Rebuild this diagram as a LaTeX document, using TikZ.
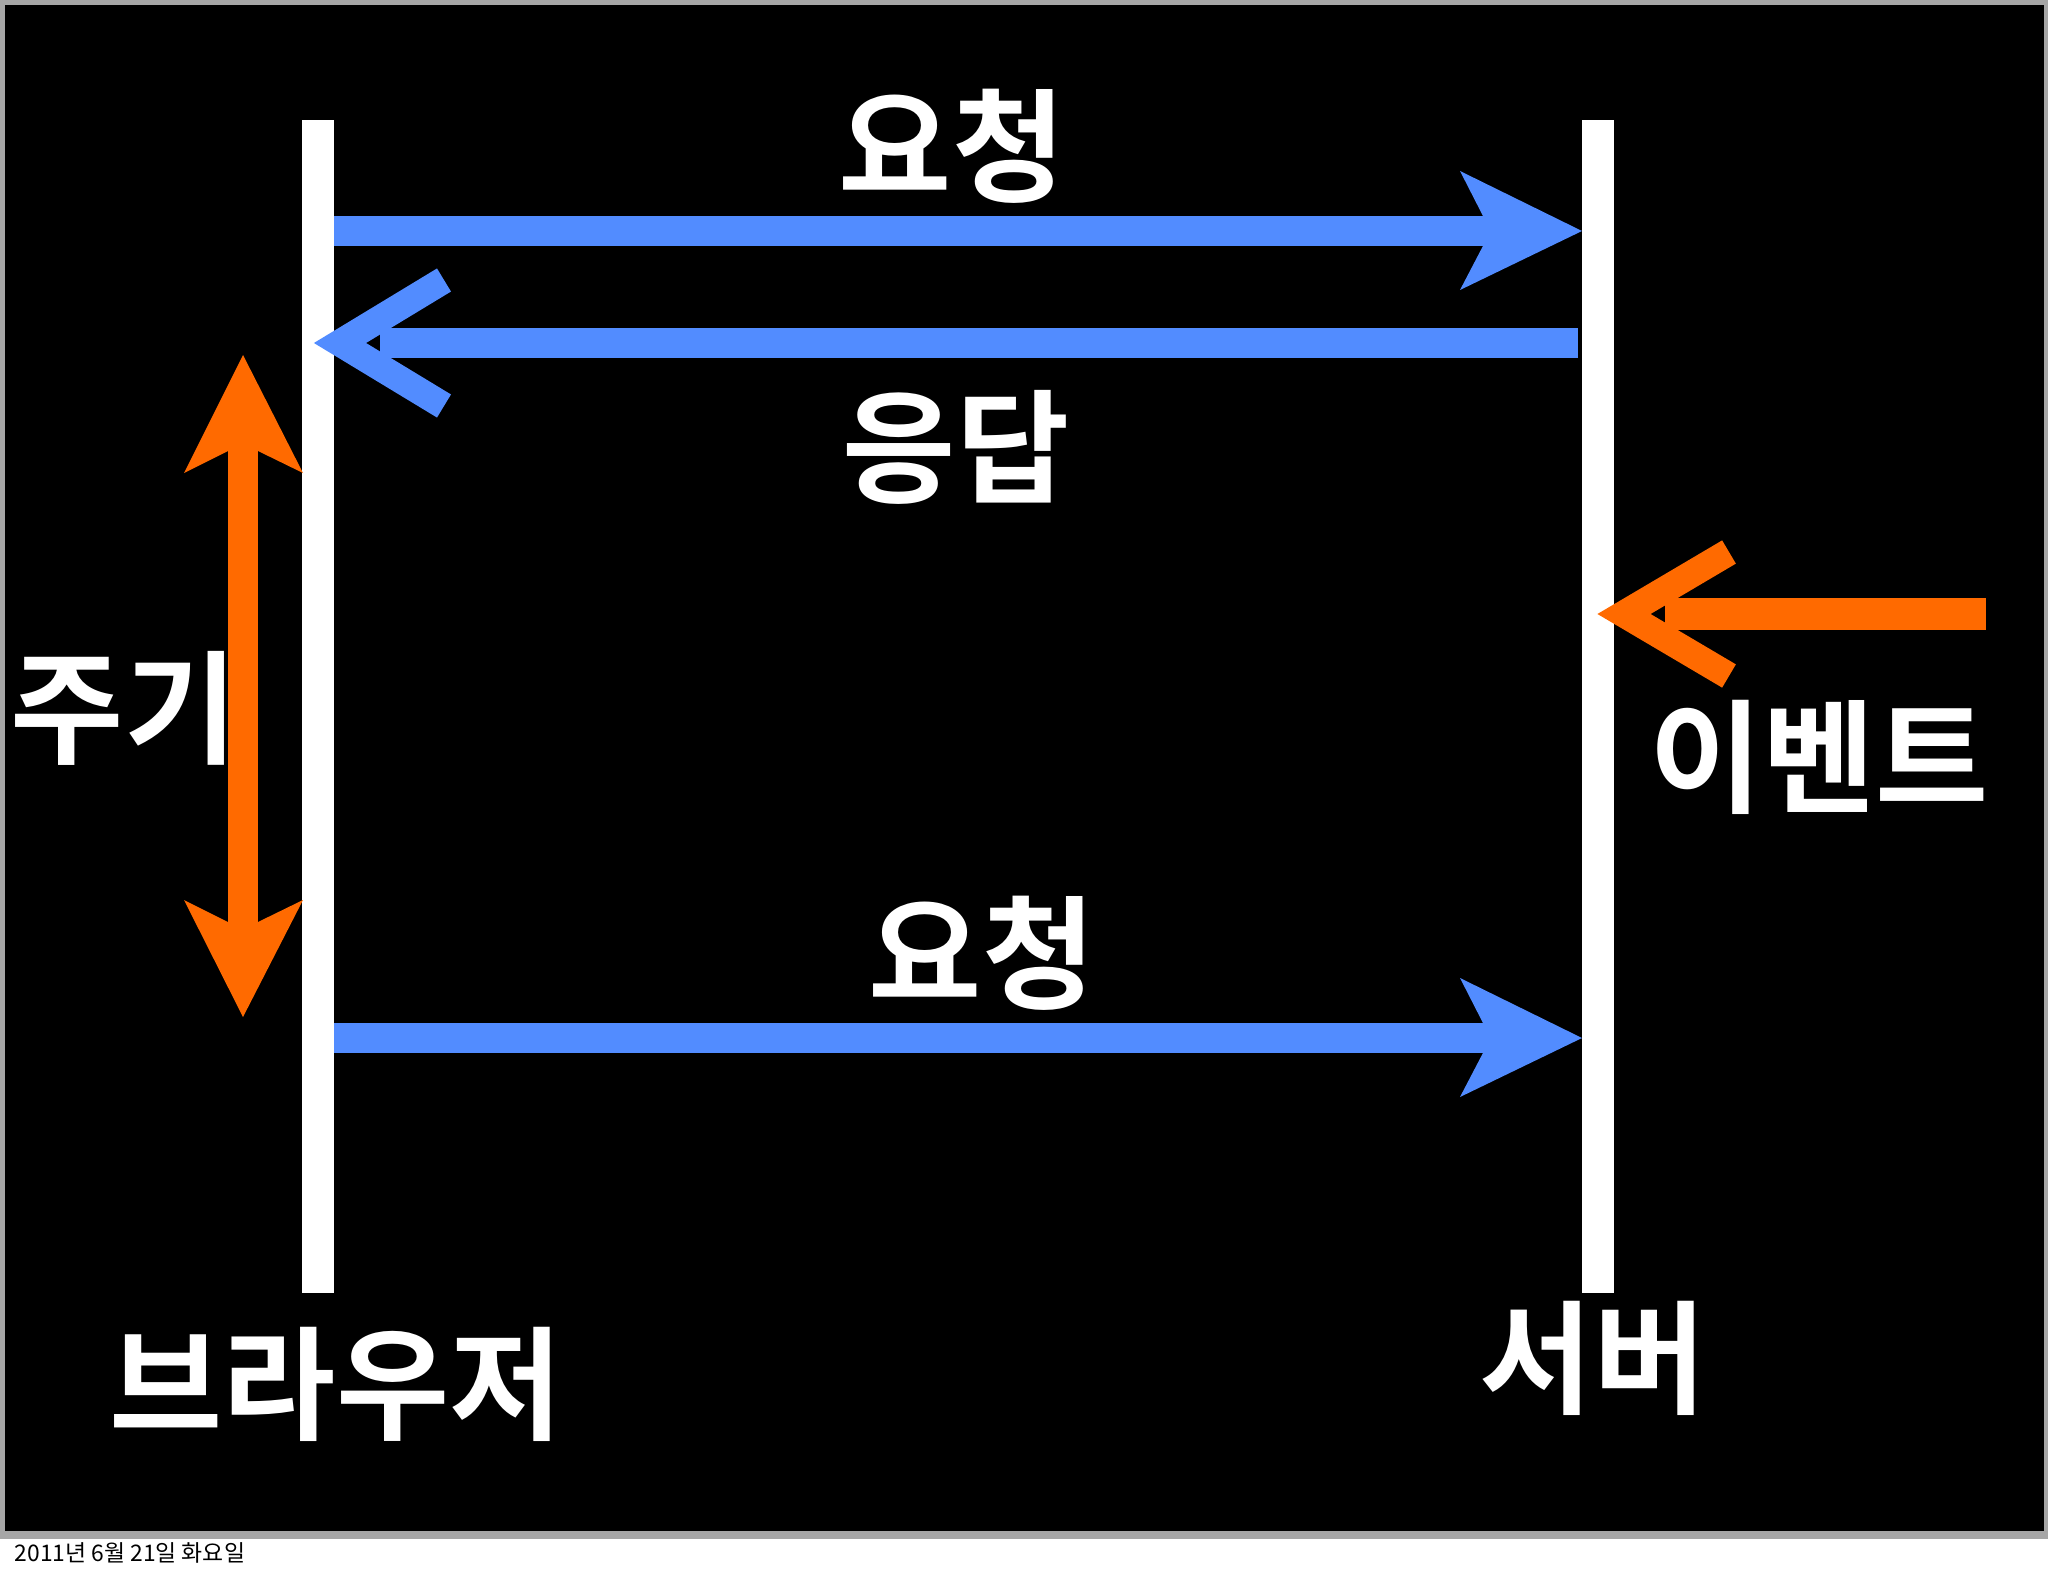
\documentclass[tikz,border=0pt]{standalone}
\usepackage{fontspec}
\newfontfamily\kr{Noto Sans CJK KR}
\newfontfamily\krb{Noto Sans CJK KR Bold}
\definecolor{ablue}{HTML}{528CFF}
\definecolor{aorange}{HTML}{FF6A00}
\begin{document}
\begin{tikzpicture}[x=0.01cm,y=-0.01cm,
  lbl/.style={text=white,font=\krb\fontsize{35}{40}\selectfont,inner sep=0},
  bar/.style={fill=white},
  chev/.style={line width=0.27cm,line join=miter,miter limit=10},
]
\useasboundingbox (0,0) rectangle (2048,1576);
\fill[white] (0,0) rectangle (2048,1576);
\draw[fill=black,draw=gray!70,line width=2] (1,1) rectangle (2047,1535);
% lifelines
\fill[bar] (302,120) rectangle (334,1293);
\fill[bar] (1582,120) rectangle (1614,1293);
\coordinate (L1) at (334,231); \coordinate (R1) at (1582,231);
\coordinate (R2) at (1578,343); \coordinate (L2) at (340,343);
\coordinate (L3) at (334,1038); \coordinate (R3) at (1582,1038);
% request 1
\fill[ablue] (L1)++(0,-15) rectangle (1484,246);
\fill[ablue] (R1) -- (1460,171) -- (1484,218) -- (1484,244) -- (1460,290) -- cycle;
% response
\fill[ablue] (R2)++(0,-15) rectangle (380,358);
\draw[ablue,chev] (444,280) -- (L2) -- (444,406);
% request 2
\fill[ablue] (L3)++(0,-15) rectangle (1484,1053);
\fill[ablue] (R3) -- (1460,978) -- (1484,1025) -- (1484,1051) -- (1460,1097) -- cycle;
% cycle arrow
\fill[aorange] (228,451) rectangle (258,922);
\fill[aorange] (243,355) -- (303,473) -- (258,451) -- (228,451) -- (184,473) -- cycle;
\fill[aorange] (243,1017) -- (303,900) -- (258,922) -- (228,922) -- (184,900) -- cycle;
% event
\coordinate (E) at (1624,614);
\fill[aorange] (1986,598) rectangle (1665,630);
\draw[aorange,chev] (1729,552) -- (E) -- (1729,676);
% labels
\node[lbl] (t1) at (952,146) {요청};
\node[lbl] (t2) at (956,447) {응답};
\node[lbl] (t3) at (982,953) {요청};
\node[lbl] (t4) at (124,708) {주기};
\node[lbl] (t5) at (1819,757) {이벤트};
\node[lbl] (t6) at (336,1384) {브라우저};
\node[lbl] (t7) at (1593,1358) {서버};
\node[anchor=west,inner sep=0,font=\kr\fontsize{6.5}{8}\selectfont] (d) at (14,1553) {2011년 6월 21일 화요일};
\end{tikzpicture}
\end{document}
